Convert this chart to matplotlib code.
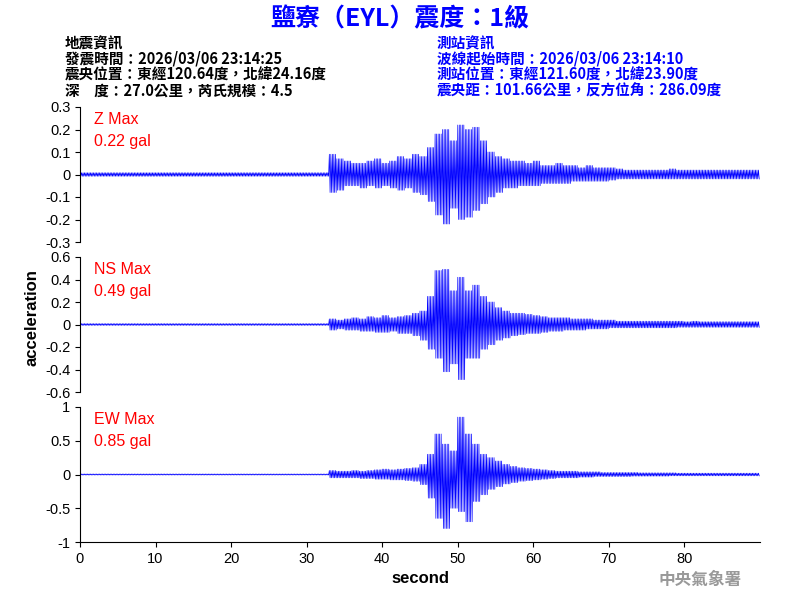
import matplotlib
matplotlib.use("Agg")
import matplotlib.pyplot as plt
from matplotlib.ticker import FuncFormatter
import numpy as np

plt.rcParams['font.family'] = ['Liberation Sans', 'Noto Sans CJK TC', 'DejaVu Sans']

seconds = list(range(90))
quiet = [0.008]*33
z_max = quiet + [0.09,0.07,0.06,0.05,0.05,0.06,0.07,0.05,0.06,0.08,0.07,0.09,0.08,0.12,0.18,0.20,0.15,0.22,0.20,0.21,0.15,0.10,0.08,0.07,0.06,0.06,0.05,0.06,0.04,0.04,0.05,0.04,0.04,0.03,0.04,0.03,0.03,0.03,0.025,0.02,0.02,0.02,0.02,0.02,0.02,0.025,0.02,0.02,0.02,0.02,0.02,0.02,0.02,0.02,0.02,0.02,0.02]
z_min = [-0.008]*33 + [-0.08,-0.07,-0.05,-0.05,-0.06,-0.05,-0.06,-0.05,-0.06,-0.07,-0.06,-0.08,-0.09,-0.12,-0.18,-0.22,-0.15,-0.20,-0.19,-0.16,-0.13,-0.10,-0.08,-0.06,-0.06,-0.05,-0.05,-0.05,-0.04,-0.04,-0.04,-0.04,-0.03,-0.03,-0.03,-0.03,-0.03,-0.025,-0.02,-0.02,-0.02,-0.02,-0.02,-0.02,-0.02,-0.02,-0.02,-0.02,-0.02,-0.02,-0.02,-0.02,-0.02,-0.02,-0.02,-0.02,-0.02]
ns_max = quiet + [0.05,0.04,0.05,0.06,0.05,0.07,0.06,0.08,0.06,0.07,0.08,0.10,0.12,0.25,0.48,0.49,0.30,0.42,0.30,0.35,0.25,0.20,0.15,0.12,0.10,0.10,0.09,0.08,0.07,0.06,0.06,0.06,0.05,0.05,0.05,0.04,0.04,0.04,0.03,0.03,0.03,0.03,0.03,0.03,0.03,0.03,0.03,0.025,0.03,0.025,0.025,0.025,0.025,0.025,0.025,0.025,0.025]
ns_min = [-0.008]*33 + [-0.05,-0.04,-0.05,-0.05,-0.06,-0.06,-0.07,-0.07,-0.06,-0.08,-0.08,-0.10,-0.14,-0.22,-0.30,-0.42,-0.35,-0.49,-0.30,-0.30,-0.22,-0.18,-0.14,-0.12,-0.10,-0.09,-0.08,-0.08,-0.07,-0.06,-0.06,-0.05,-0.05,-0.05,-0.04,-0.04,-0.04,-0.03,-0.03,-0.03,-0.03,-0.03,-0.03,-0.03,-0.03,-0.03,-0.025,-0.025,-0.025,-0.025,-0.025,-0.025,-0.025,-0.025,-0.025,-0.025,-0.025]
ew_max = quiet + [0.06,0.05,0.05,0.06,0.05,0.06,0.07,0.08,0.07,0.08,0.09,0.10,0.15,0.30,0.60,0.45,0.35,0.85,0.60,0.45,0.30,0.25,0.20,0.15,0.12,0.10,0.09,0.08,0.07,0.06,0.05,0.05,0.05,0.04,0.04,0.04,0.03,0.03,0.03,0.03,0.03,0.025,0.025,0.025,0.025,0.025,0.02,0.02,0.02,0.02,0.02,0.02,0.02,0.02,0.02,0.02,0.02]
ew_min = [-0.008]*33 + [-0.05,-0.05,-0.05,-0.05,-0.06,-0.06,-0.07,-0.07,-0.08,-0.08,-0.09,-0.10,-0.15,-0.35,-0.65,-0.80,-0.50,-0.55,-0.70,-0.40,-0.30,-0.22,-0.18,-0.14,-0.12,-0.10,-0.09,-0.08,-0.07,-0.06,-0.05,-0.05,-0.05,-0.04,-0.04,-0.03,-0.03,-0.03,-0.03,-0.03,-0.025,-0.025,-0.025,-0.025,-0.025,-0.02,-0.02,-0.02,-0.02,-0.02,-0.02,-0.02,-0.02,-0.02,-0.02,-0.02,-0.02]

panels = [("Z Max", "0.22 gal", z_max, z_min, 0.3, [0.3,0.2,0.1,0,-0.1,-0.2,-0.3]),
          ("NS Max", "0.49 gal", ns_max, ns_min, 0.6, [0.6,0.4,0.2,0,-0.2,-0.4,-0.6]),
          ("EW Max", "0.85 gal", ew_max, ew_min, 1.0, [1,0.5,0,-0.5,-1])]

fig = plt.figure(figsize=(8, 6), dpi=100)
tops = [1-107/600, 1-257/600, 1-407/600]
h = 135/600
fmt = FuncFormatter(lambda v, p: "%g" % round(v, 2))
N = 10
for i, (lab, val, mx, mn, lim, ticks) in enumerate(panels):
    ax = fig.add_axes([0.1, tops[i]-h, 0.85, h])
    xs, ys = [], []
    for s, a, b in zip(seconds, mx, mn):
        for k in range(N):
            xs.append(s + k/N)
            ys.append(a if k % 2 == 0 else b)
    ax.plot(xs, ys, color='#0000ff', lw=0.5)
    ax.set_xlim(0, 90)
    ax.set_ylim(-lim, lim)
    ax.set_yticks(ticks)
    ax.yaxis.set_major_formatter(fmt)
    ax.tick_params(labelsize=10.5)
    for sp in ['top', 'right']:
        ax.spines[sp].set_visible(False)
    if i < 2:
        ax.spines['bottom'].set_visible(False)
        ax.set_xticks([])
    else:
        ax.set_xticks(range(0, 90, 10))
        ax.set_xlabel("second", fontsize=12, fontweight='bold')
    ax.text(0.02, 0.96, lab, transform=ax.transAxes, color='red', fontsize=11.5, va='top')
    ax.text(0.02, 0.80, val, transform=ax.transAxes, color='red', fontsize=11.5, va='top')

fig.text(0.04, 0.47, "acceleration", rotation=90, fontsize=12, fontweight='bold', ha='center', va='center')
fig.text(0.5, 0.968, "鹽寮（EYL）震度：1級", color='#0000ff', fontsize=18, fontweight='bold',
         ha='center', va='center', family=['Noto Sans CJK TC', 'DejaVu Sans'])
left = ["地震資訊", "發震時間：2026/03/06 23:14:25", "震央位置：東經120.64度，北緯24.16度", "深　度：27.0公里，芮氏規模：4.5"]
right = ["測站資訊", "波線起始時間：2026/03/06 23:14:10", "測站位置：東經121.60度，北緯23.90度", "震央距：101.66公里，反方位角：286.09度"]
for j, (l, r) in enumerate(zip(left, right)):
    y = 1 - (43 + 16*j)/600
    fig.text(65/800, y, l, fontsize=10.5, fontweight='bold', va='center', family=['Noto Sans CJK TC', 'DejaVu Sans'])
    fig.text(437/800, y, r, fontsize=10.5, fontweight='bold', color='#0000ff', va='center', family=['Noto Sans CJK TC', 'DejaVu Sans'])
fig.text(700/800, 1-580/600, "中央氣象署", color='#999999', fontsize=12, fontweight='bold', ha='center', va='center',
         family=['Noto Sans CJK TC', 'DejaVu Sans'])
fig.savefig("out.png", dpi=100)
